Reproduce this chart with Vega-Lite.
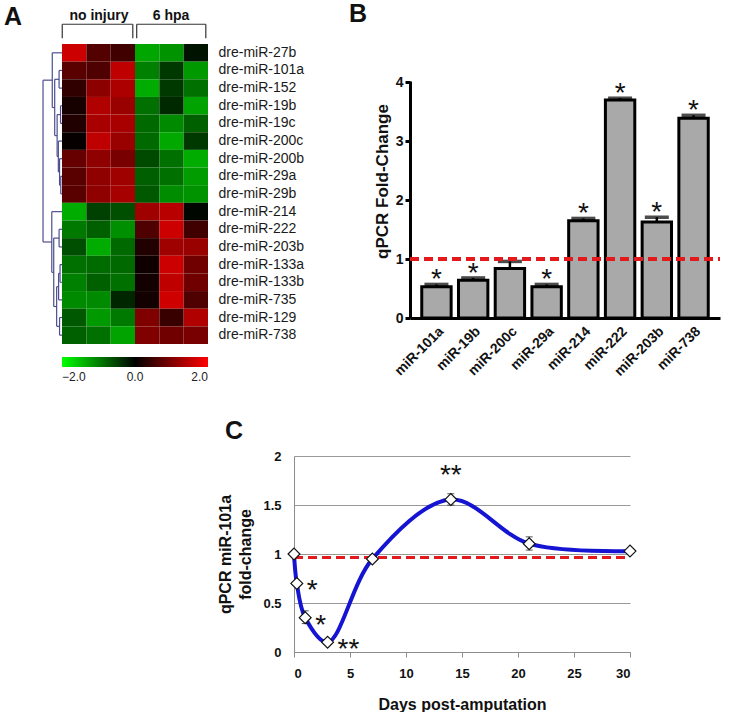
{
  "$schema": "https://vega.github.io/schema/vega-lite/v6.json",
  "background": "white",
  "padding": {"left": 4, "top": 2, "right": 0, "bottom": 0},
  "config": {
    "view": {"stroke": null},
    "font": "Liberation Sans",
    "title": {"font": "Liberation Sans", "fontSize": 25, "fontWeight": "bold", "color": "#111"},
    "axis": {"labelFont": "Liberation Sans", "titleFont": "Liberation Sans"}
  },
  "spacing": 40,
  "vconcat": [
    {
      "spacing": 45,
      "hconcat": [
        {
          "width": 146,
          "height": 300,
          "title": {"text": "A", "anchor": "start", "frame": "group", "dx": -58, "offset": -21},
          "resolve": {"scale": {"x": "independent", "y": "independent"}},
          "layer": [
            {
              "data": {"values": [
                {"gene":"dre-miR-27b","sample":"no injury 1","v":1.6},{"gene":"dre-miR-27b","sample":"no injury 2","v":0.65},{"gene":"dre-miR-27b","sample":"no injury 3","v":0.5},{"gene":"dre-miR-27b","sample":"6 hpa 1","v":-1.3},{"gene":"dre-miR-27b","sample":"6 hpa 2","v":-1.15},{"gene":"dre-miR-27b","sample":"6 hpa 3","v":-0.15},
                {"gene":"dre-miR-101a","sample":"no injury 1","v":0.7},{"gene":"dre-miR-101a","sample":"no injury 2","v":0.62},{"gene":"dre-miR-101a","sample":"no injury 3","v":1.5},{"gene":"dre-miR-101a","sample":"6 hpa 1","v":-1.0},{"gene":"dre-miR-101a","sample":"6 hpa 2","v":-0.45},{"gene":"dre-miR-101a","sample":"6 hpa 3","v":-1.2},
                {"gene":"dre-miR-152","sample":"no injury 1","v":0.38},{"gene":"dre-miR-152","sample":"no injury 2","v":1.1},{"gene":"dre-miR-152","sample":"no injury 3","v":1.35},{"gene":"dre-miR-152","sample":"6 hpa 1","v":-1.35},{"gene":"dre-miR-152","sample":"6 hpa 2","v":-0.45},{"gene":"dre-miR-152","sample":"6 hpa 3","v":-0.88},
                {"gene":"dre-miR-19b","sample":"no injury 1","v":0.18},{"gene":"dre-miR-19b","sample":"no injury 2","v":1.38},{"gene":"dre-miR-19b","sample":"no injury 3","v":1.2},{"gene":"dre-miR-19b","sample":"6 hpa 1","v":-0.88},{"gene":"dre-miR-19b","sample":"6 hpa 2","v":-0.32},{"gene":"dre-miR-19b","sample":"6 hpa 3","v":-1.28},
                {"gene":"dre-miR-19c","sample":"no injury 1","v":0.25},{"gene":"dre-miR-19c","sample":"no injury 2","v":1.32},{"gene":"dre-miR-19c","sample":"no injury 3","v":1.32},{"gene":"dre-miR-19c","sample":"6 hpa 1","v":-0.82},{"gene":"dre-miR-19c","sample":"6 hpa 2","v":-1.08},{"gene":"dre-miR-19c","sample":"6 hpa 3","v":-0.75},
                {"gene":"dre-miR-200c","sample":"no injury 1","v":0.05},{"gene":"dre-miR-200c","sample":"no injury 2","v":1.5},{"gene":"dre-miR-200c","sample":"no injury 3","v":1.2},{"gene":"dre-miR-200c","sample":"6 hpa 1","v":-0.82},{"gene":"dre-miR-200c","sample":"6 hpa 2","v":-1.32},{"gene":"dre-miR-200c","sample":"6 hpa 3","v":-0.45},
                {"gene":"dre-miR-200b","sample":"no injury 1","v":0.8},{"gene":"dre-miR-200b","sample":"no injury 2","v":1.12},{"gene":"dre-miR-200b","sample":"no injury 3","v":0.95},{"gene":"dre-miR-200b","sample":"6 hpa 1","v":-0.58},{"gene":"dre-miR-200b","sample":"6 hpa 2","v":-0.88},{"gene":"dre-miR-200b","sample":"6 hpa 3","v":-1.35},
                {"gene":"dre-miR-29a","sample":"no injury 1","v":0.7},{"gene":"dre-miR-29a","sample":"no injury 2","v":1.12},{"gene":"dre-miR-29a","sample":"no injury 3","v":1.25},{"gene":"dre-miR-29a","sample":"6 hpa 1","v":-0.75},{"gene":"dre-miR-29a","sample":"6 hpa 2","v":-0.88},{"gene":"dre-miR-29a","sample":"6 hpa 3","v":-1.22},
                {"gene":"dre-miR-29b","sample":"no injury 1","v":0.7},{"gene":"dre-miR-29b","sample":"no injury 2","v":1.12},{"gene":"dre-miR-29b","sample":"no injury 3","v":1.3},{"gene":"dre-miR-29b","sample":"6 hpa 1","v":-0.7},{"gene":"dre-miR-29b","sample":"6 hpa 2","v":-1.1},{"gene":"dre-miR-29b","sample":"6 hpa 3","v":-1.15},
                {"gene":"dre-miR-214","sample":"no injury 1","v":-1.35},{"gene":"dre-miR-214","sample":"no injury 2","v":-0.5},{"gene":"dre-miR-214","sample":"no injury 3","v":-0.62},{"gene":"dre-miR-214","sample":"6 hpa 1","v":1.25},{"gene":"dre-miR-214","sample":"6 hpa 2","v":1.45},{"gene":"dre-miR-214","sample":"6 hpa 3","v":-0.05},
                {"gene":"dre-miR-222","sample":"no injury 1","v":-0.95},{"gene":"dre-miR-222","sample":"no injury 2","v":-0.75},{"gene":"dre-miR-222","sample":"no injury 3","v":-1.12},{"gene":"dre-miR-222","sample":"6 hpa 1","v":0.62},{"gene":"dre-miR-222","sample":"6 hpa 2","v":1.6},{"gene":"dre-miR-222","sample":"6 hpa 3","v":0.5},
                {"gene":"dre-miR-203b","sample":"no injury 1","v":-0.62},{"gene":"dre-miR-203b","sample":"no injury 2","v":-1.35},{"gene":"dre-miR-203b","sample":"no injury 3","v":-0.82},{"gene":"dre-miR-203b","sample":"6 hpa 1","v":0.25},{"gene":"dre-miR-203b","sample":"6 hpa 2","v":1.25},{"gene":"dre-miR-203b","sample":"6 hpa 3","v":1.2},
                {"gene":"dre-miR-133a","sample":"no injury 1","v":-0.88},{"gene":"dre-miR-133a","sample":"no injury 2","v":-0.85},{"gene":"dre-miR-133a","sample":"no injury 3","v":-0.82},{"gene":"dre-miR-133a","sample":"6 hpa 1","v":0.12},{"gene":"dre-miR-133a","sample":"6 hpa 2","v":1.6},{"gene":"dre-miR-133a","sample":"6 hpa 3","v":0.88},
                {"gene":"dre-miR-133b","sample":"no injury 1","v":-1.0},{"gene":"dre-miR-133b","sample":"no injury 2","v":-0.75},{"gene":"dre-miR-133b","sample":"no injury 3","v":-0.88},{"gene":"dre-miR-133b","sample":"6 hpa 1","v":0.15},{"gene":"dre-miR-133b","sample":"6 hpa 2","v":1.5},{"gene":"dre-miR-133b","sample":"6 hpa 3","v":0.88},
                {"gene":"dre-miR-735","sample":"no injury 1","v":-1.08},{"gene":"dre-miR-735","sample":"no injury 2","v":-1.08},{"gene":"dre-miR-735","sample":"no injury 3","v":-0.3},{"gene":"dre-miR-735","sample":"6 hpa 1","v":0.15},{"gene":"dre-miR-735","sample":"6 hpa 2","v":1.62},{"gene":"dre-miR-735","sample":"6 hpa 3","v":0.62},
                {"gene":"dre-miR-129","sample":"no injury 1","v":-0.7},{"gene":"dre-miR-129","sample":"no injury 2","v":-1.2},{"gene":"dre-miR-129","sample":"no injury 3","v":-0.95},{"gene":"dre-miR-129","sample":"6 hpa 1","v":1.0},{"gene":"dre-miR-129","sample":"6 hpa 2","v":0.45},{"gene":"dre-miR-129","sample":"6 hpa 3","v":1.38},
                {"gene":"dre-miR-738","sample":"no injury 1","v":-0.75},{"gene":"dre-miR-738","sample":"no injury 2","v":-0.88},{"gene":"dre-miR-738","sample":"no injury 3","v":-1.28},{"gene":"dre-miR-738","sample":"6 hpa 1","v":1.0},{"gene":"dre-miR-738","sample":"6 hpa 2","v":0.88},{"gene":"dre-miR-738","sample":"6 hpa 3","v":0.95}
              ]},
              "mark": {"type": "rect"},
              "encoding": {
                "x": {"field": "sample", "type": "nominal", "sort": ["no injury 1","no injury 2","no injury 3","6 hpa 1","6 hpa 2","6 hpa 3"], "scale": {"paddingInner": 0, "paddingOuter": 0}, "axis": null},
                "y": {"field": "gene", "type": "nominal", "sort": ["dre-miR-27b","dre-miR-101a","dre-miR-152","dre-miR-19b","dre-miR-19c","dre-miR-200c","dre-miR-200b","dre-miR-29a","dre-miR-29b","dre-miR-214","dre-miR-222","dre-miR-203b","dre-miR-133a","dre-miR-133b","dre-miR-735","dre-miR-129","dre-miR-738"], "scale": {"paddingInner": 0, "paddingOuter": 0},
                  "axis": {"orient": "right", "title": null, "ticks": false, "domain": false, "labelFontSize": 14, "labelPadding": 10, "labelColor": "#1a1a1a"}},
                "color": {"field": "v", "type": "quantitative",
                  "scale": {"domain": [-2, 0, 2], "range": ["#00ff00", "#000000", "#ff0000"], "interpolate": "rgb"},
                  "legend": {"orient": "none", "legendX": 0, "legendY": 313, "direction": "horizontal", "gradientLength": 146, "gradientThickness": 10, "gradientStrokeWidth": 0, "title": null, "values": [-2, 0, 2], "format": ".1f", "labelFontSize": 12, "labelColor": "#222", "labelOffset": 5}}
              }
            },
            {
              "layer": [
                {
                  "data": {"values": [
                    {"x1":0,"x2":-0.12,"y1":1.5,"y2":1.5},{"x1":0,"x2":-0.12,"y1":2.5,"y2":2.5},{"x1":-0.12,"x2":-0.12,"y1":1.5,"y2":2.5},
                    {"x1":0,"x2":-0.06,"y1":3.5,"y2":3.5},{"x1":0,"x2":-0.06,"y1":4.5,"y2":4.5},{"x1":-0.06,"x2":-0.06,"y1":3.5,"y2":4.5},
                    {"x1":0,"x2":-0.05,"y1":7.5,"y2":7.5},{"x1":0,"x2":-0.05,"y1":8.5,"y2":8.5},{"x1":-0.05,"x2":-0.05,"y1":7.5,"y2":8.5},
                    {"x1":0,"x2":-0.1,"y1":6.5,"y2":6.5},{"x1":-0.05,"x2":-0.1,"y1":8.0,"y2":8.0},{"x1":-0.1,"x2":-0.1,"y1":6.5,"y2":8.0},
                    {"x1":0,"x2":-0.15,"y1":5.5,"y2":5.5},{"x1":-0.1,"x2":-0.15,"y1":7.25,"y2":7.25},{"x1":-0.15,"x2":-0.15,"y1":5.5,"y2":7.25},
                    {"x1":-0.06,"x2":-0.2,"y1":4.0,"y2":4.0},{"x1":-0.15,"x2":-0.2,"y1":6.375,"y2":6.375},{"x1":-0.2,"x2":-0.2,"y1":4.0,"y2":6.375},
                    {"x1":-0.12,"x2":-0.3,"y1":2.0,"y2":2.0},{"x1":-0.2,"x2":-0.3,"y1":5.19,"y2":5.19},{"x1":-0.3,"x2":-0.3,"y1":2.0,"y2":5.19},
                    {"x1":0,"x2":-0.4,"y1":0.5,"y2":0.5},{"x1":-0.3,"x2":-0.4,"y1":3.6,"y2":3.6},{"x1":-0.4,"x2":-0.4,"y1":0.5,"y2":3.6},
                    {"x1":0,"x2":-0.12,"y1":10.5,"y2":10.5},{"x1":0,"x2":-0.12,"y1":11.5,"y2":11.5},{"x1":-0.12,"x2":-0.12,"y1":10.5,"y2":11.5},
                    {"x1":0,"x2":-0.08,"y1":12.5,"y2":12.5},{"x1":0,"x2":-0.08,"y1":13.5,"y2":13.5},{"x1":-0.08,"x2":-0.08,"y1":12.5,"y2":13.5},
                    {"x1":-0.08,"x2":-0.14,"y1":13.0,"y2":13.0},{"x1":0,"x2":-0.14,"y1":14.5,"y2":14.5},{"x1":-0.14,"x2":-0.14,"y1":13.0,"y2":14.5},
                    {"x1":0,"x2":-0.1,"y1":15.5,"y2":15.5},{"x1":0,"x2":-0.1,"y1":16.5,"y2":16.5},{"x1":-0.1,"x2":-0.1,"y1":15.5,"y2":16.5},
                    {"x1":-0.14,"x2":-0.22,"y1":13.75,"y2":13.75},{"x1":-0.1,"x2":-0.22,"y1":16.0,"y2":16.0},{"x1":-0.22,"x2":-0.22,"y1":13.75,"y2":16.0},
                    {"x1":-0.12,"x2":-0.34,"y1":11.0,"y2":11.0},{"x1":-0.22,"x2":-0.34,"y1":14.875,"y2":14.875},{"x1":-0.34,"x2":-0.34,"y1":11.0,"y2":14.875},
                    {"x1":0,"x2":-0.42,"y1":9.5,"y2":9.5},{"x1":-0.34,"x2":-0.42,"y1":12.94,"y2":12.94},{"x1":-0.42,"x2":-0.42,"y1":9.5,"y2":12.94},
                    {"x1":-0.4,"x2":-0.78,"y1":2.05,"y2":2.05},{"x1":-0.42,"x2":-0.78,"y1":11.22,"y2":11.22},{"x1":-0.78,"x2":-0.78,"y1":2.05,"y2":11.22}
                  ]},
                  "mark": {"type": "rule", "color": "#4d4d8f", "strokeWidth": 1.2},
                  "encoding": {
                    "x": {"field": "x1", "type": "quantitative", "scale": {"domain": [0, 6], "nice": false, "zero": false}, "axis": null},
                    "x2": {"field": "x2"},
                    "y": {"field": "y1", "type": "quantitative", "scale": {"domain": [0, 17], "nice": false, "zero": false, "reverse": true}, "axis": null},
                    "y2": {"field": "y2"}
                  }
                },
                {
                  "data": {"values": [
                    {"x1":0.01,"x2":2.91,"y1":-1.12,"y2":-1.12},{"x1":0.01,"x2":0.01,"y1":-1.12,"y2":-0.32},{"x1":2.91,"x2":2.91,"y1":-1.12,"y2":-0.32},
                    {"x1":3.07,"x2":5.91,"y1":-1.12,"y2":-1.12},{"x1":3.07,"x2":3.07,"y1":-1.12,"y2":-0.32},{"x1":5.91,"x2":5.91,"y1":-1.12,"y2":-0.32}
                  ]},
                  "mark": {"type": "rule", "color": "#333333", "strokeWidth": 1.2},
                  "encoding": {
                    "x": {"field": "x1", "type": "quantitative", "scale": {"domain": [0, 6], "nice": false, "zero": false}, "axis": null},
                    "x2": {"field": "x2"},
                    "y": {"field": "y1", "type": "quantitative", "scale": {"domain": [0, 17], "nice": false, "zero": false, "reverse": true}, "axis": null},
                    "y2": {"field": "y2"}
                  }
                },
                {
                  "data": {"values": [
                    {"group": "no injury", "cx": 1.52, "cy": -1.35},
                    {"group": "6 hpa", "cx": 4.48, "cy": -1.35}
                  ]},
                  "mark": {"type": "text", "fontSize": 14, "fontWeight": "bold", "align": "center", "baseline": "alphabetic", "color": "#111"},
                  "encoding": {
                    "x": {"field": "cx", "type": "quantitative", "scale": {"domain": [0, 6], "nice": false, "zero": false}, "axis": null},
                    "y": {"field": "cy", "type": "quantitative", "scale": {"domain": [0, 17], "nice": false, "zero": false, "reverse": true}, "axis": null},
                    "text": {"field": "group"}
                  }
                }
              ]
            }
          ]
        },
        {
          "width": 310,
          "height": 274,
          "title": {"text": "B", "anchor": "start", "frame": "group", "dx": -61, "offset": 17},
          "data": {"values": [
            {"mir": "miR-101a", "fc": 0.53, "hi": 0.57, "sig": "*"},
            {"mir": "miR-19b", "fc": 0.64, "hi": 0.68, "sig": "*"},
            {"mir": "miR-200c", "fc": 0.84, "hi": 0.96, "sig": ""},
            {"mir": "miR-29a", "fc": 0.53, "hi": 0.57, "sig": "*"},
            {"mir": "miR-214", "fc": 1.65, "hi": 1.69, "sig": "*"},
            {"mir": "miR-222", "fc": 3.70, "hi": 3.73, "sig": "*"},
            {"mir": "miR-203b", "fc": 1.63, "hi": 1.71, "sig": "*"},
            {"mir": "miR-738", "fc": 3.39, "hi": 3.44, "sig": "*"}
          ]},
          "encoding": {
            "x": {"field": "mir", "type": "nominal", "sort": null,
              "scale": {"paddingInner": 0.2, "paddingOuter": 0.32},
              "axis": {"title": null, "labelAngle": -45, "labelFontSize": 14, "labelFontWeight": "bold", "labelColor": "#111", "ticks": false, "domainColor": "#000", "domainWidth": 3, "labelPadding": 6}}
          },
          "layer": [
            {
              "mark": {"type": "bar", "fill": "#a9a9a9", "stroke": "#000", "strokeWidth": 3},
              "encoding": {
                "y": {"field": "fc", "type": "quantitative", "scale": {"domain": [0, 4.65], "nice": false},
                  "axis": {"title": "qPCR Fold-Change", "titleFontSize": 17, "titleFontWeight": "bold", "titleColor": "#111", "titlePadding": 4, "values": [0, 1, 2, 3, 4], "format": "d", "labelFontSize": 14, "labelFontWeight": "bold", "labelColor": "#111", "grid": false, "domainColor": "#000", "domainWidth": 3, "domainDash": [237, 2000], "tickColor": "#000", "tickWidth": 3, "tickSize": 5, "labelPadding": 2}}
              }
            },
            {
              "mark": {"type": "rule", "color": "#000", "strokeWidth": 2.5},
              "encoding": {"y": {"field": "fc", "type": "quantitative"}, "y2": {"field": "hi"}}
            },
            {
              "mark": {"type": "tick", "orient": "horizontal", "color": "#000", "size": 24, "thickness": 3.5},
              "encoding": {"y": {"field": "hi", "type": "quantitative"}}
            },
            {
              "mark": {"type": "text", "fontSize": 28, "align": "center", "baseline": "alphabetic", "dy": 4, "color": "#111"},
              "encoding": {"y": {"field": "hi", "type": "quantitative"}, "text": {"field": "sig"}}
            },
            {
              "mark": {"type": "rule", "color": "#e4191c", "strokeWidth": 3, "strokeDash": [9, 5]},
              "encoding": {"y": {"datum": 1}, "x": {"value": 0}, "x2": {"value": 310}}
            }
          ]
        }
      ]
    },
    {
      "spacing": 0,
      "hconcat": [
        {
          "width": 155,
          "height": 10,
          "data": {"values": [{}]},
          "mark": {"type": "point", "opacity": 0},
          "encoding": {}
        },
        {
          "width": 336,
          "height": 196,
          "title": {"text": "C", "anchor": "start", "frame": "group", "dx": -69, "offset": 6},
          "data": {"values": [
            {"day": 0, "fc": 1.0, "lo": 0.99, "hi": 1.01, "sig": ""},
            {"day": 0.25, "fc": 0.7, "lo": 0.69, "hi": 0.71, "sig": "*"},
            {"day": 1, "fc": 0.35, "lo": 0.29, "hi": 0.42, "sig": "*"},
            {"day": 3, "fc": 0.1, "lo": 0.08, "hi": 0.12, "sig": "**"},
            {"day": 7, "fc": 0.95, "lo": 0.93, "hi": 0.97, "sig": ""},
            {"day": 14, "fc": 1.555, "lo": 1.5, "hi": 1.615, "sig": "**"},
            {"day": 21, "fc": 1.105, "lo": 1.04, "hi": 1.175, "sig": ""},
            {"day": 30, "fc": 1.03, "lo": 1.01, "hi": 1.05, "sig": ""}
          ]},
          "encoding": {
            "x": {"field": "day", "type": "quantitative", "scale": {"domain": [0, 30], "nice": false},
              "axis": {"title": "Days post-amputation", "titleFontSize": 16, "titleFontWeight": "bold", "titleColor": "#111", "titlePadding": 16, "values": [0, 5, 10, 15, 20, 25, 30], "labelFontSize": 13, "labelFontWeight": "bold", "labelColor": "#111", "grid": false, "domainColor": "#8c8c8c", "tickColor": "#8c8c8c", "tickSize": 5, "labelPadding": 10}}
          },
          "layer": [
            {
              "mark": {"type": "line", "interpolate": "catmull-rom", "color": "#1414d2", "strokeWidth": 4},
              "encoding": {
                "y": {"field": "fc", "type": "quantitative", "scale": {"domain": [0, 2], "nice": false},
                  "axis": {"title": ["qPCR miR-101a", "fold-change"], "titleFontSize": 16, "titleFontWeight": "bold", "titleColor": "#111", "titlePadding": 9, "titleLineHeight": 20, "values": [0, 0.5, 1, 1.5, 2], "format": "~g", "labelFontSize": 13, "labelFontWeight": "bold", "labelColor": "#111", "grid": true, "gridColor": "#999", "domainColor": "#8c8c8c", "ticks": false, "labelPadding": 13}}
              }
            },
            {
              "mark": {"type": "rule", "color": "#e4191c", "strokeWidth": 3, "strokeDash": [9, 5]},
              "encoding": {"y": {"datum": 0.965}, "x": {"datum": 0}, "x2": {"datum": 30}}
            },
            {
              "mark": {"type": "rule", "color": "#111", "strokeWidth": 1},
              "encoding": {"y": {"field": "lo", "type": "quantitative"}, "y2": {"field": "hi"}}
            },
            {
              "mark": {"type": "tick", "orient": "horizontal", "color": "#111", "size": 7, "thickness": 1},
              "encoding": {"y": {"field": "lo", "type": "quantitative"}}
            },
            {
              "mark": {"type": "tick", "orient": "horizontal", "color": "#111", "size": 7, "thickness": 1},
              "encoding": {"y": {"field": "hi", "type": "quantitative"}}
            },
            {
              "mark": {"type": "point", "shape": "diamond", "filled": true, "fill": "white", "stroke": "#111", "strokeWidth": 1.2, "size": 140, "opacity": 1},
              "encoding": {"y": {"field": "fc", "type": "quantitative"}}
            },
            {
              "transform": [{"filter": "datum.day < 10"}],
              "mark": {"type": "text", "fontSize": 28, "align": "left", "baseline": "alphabetic", "dx": 10, "dy": 16, "color": "#111"},
              "encoding": {"y": {"field": "fc", "type": "quantitative"}, "text": {"field": "sig"}}
            },
            {
              "transform": [{"filter": "datum.day == 14"}],
              "mark": {"type": "text", "fontSize": 28, "align": "center", "baseline": "alphabetic", "dy": -16, "color": "#111"},
              "encoding": {"y": {"field": "fc", "type": "quantitative"}, "text": {"field": "sig"}}
            }
          ]
        }
      ]
    }
  ]
}
